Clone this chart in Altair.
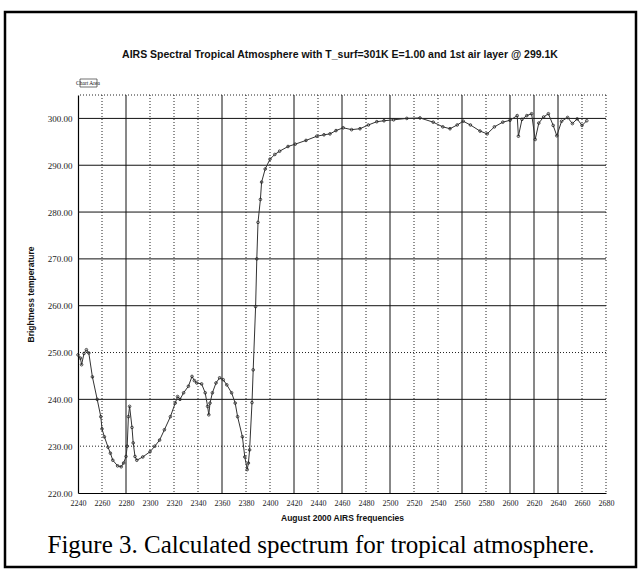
import altair as alt
import pandas as pd

# ---- data ----
freq = [2240, 2242, 2243, 2245, 2247, 2249, 2252, 2256, 2259, 2260, 2262, 2265, 2267, 2269,
        2273, 2276, 2278, 2280, 2281, 2282, 2283, 2285, 2286, 2287.5, 2289, 2294, 2300, 2304,
        2308, 2312, 2317, 2321, 2323, 2325, 2328, 2332, 2335, 2337, 2339, 2343, 2346, 2348,
        2349, 2350, 2352, 2355, 2358, 2361, 2364, 2368, 2371, 2373, 2377, 2379, 2381, 2382,
        2383, 2385, 2386, 2388, 2389, 2390, 2392, 2393, 2396, 2400, 2404, 2408, 2415, 2421,
        2430, 2439, 2445, 2450, 2455, 2461, 2468, 2475, 2482, 2489, 2495, 2503, 2514, 2525,
        2536, 2544, 2550, 2556, 2561, 2567, 2575, 2581, 2587, 2594, 2600, 2606, 2607, 2610,
        2614, 2618, 2621, 2624, 2628, 2632, 2636, 2639, 2643, 2648, 2652, 2656, 2660, 2664]
temp = [249.5, 248.8, 247.4, 249.8, 250.6, 249.9, 244.8, 240.0, 236.3, 233.7, 232.0, 229.8, 228.5, 227.0,
        225.8, 225.6, 226.4, 227.8, 230.0, 236.3, 238.5, 234.0, 230.7, 227.8, 227.0, 227.7, 228.8, 230.0,
        231.3, 233.5, 236.3, 239.2, 240.6, 240.0, 241.4, 242.8, 244.9, 244.0, 243.5, 243.3, 241.4, 238.5,
        236.7, 239.2, 241.4, 243.5, 244.6, 244.2, 243.1, 241.4, 239.2, 236.3, 232.0, 227.7, 225.0, 226.4,
        229.2, 239.3, 246.3, 259.8, 270.0, 277.8, 282.7, 286.4, 289.2, 291.3, 292.3, 293.0, 294.0, 294.5,
        295.3, 296.2, 296.5, 296.7, 297.4, 298.0, 297.6, 297.8, 298.6, 299.3, 299.5, 299.7, 300.0, 300.1,
        299.2, 298.2, 297.8, 298.6, 299.4, 298.6, 297.3, 296.7, 298.2, 299.2, 299.6, 300.6, 296.2, 299.8,
        300.6, 301.0, 295.5, 299.0, 300.3, 301.0, 298.5, 296.3, 299.4, 300.2, 298.9, 299.9, 298.5, 299.5]

x_ticks = [2240, 2260, 2280, 2300, 2320, 2340, 2360, 2380, 2400, 2420, 2440, 2460,
           2480, 2500, 2520, 2540, 2560, 2580, 2600, 2620, 2640, 2660, 2680]
y_ticks = [220, 230, 240, 250, 260, 270, 280, 290, 300]
x_grid_solid = [2280, 2360, 2420, 2460, 2500, 2560, 2600, 2620, 2640]
x_grid_dotted = [2260, 2300, 2320, 2340, 2380, 2400, 2440, 2480, 2520, 2540, 2580, 2660, 2680]
y_grid_solid = [240, 260, 270, 280, 290, 300]
y_grid_dotted = [230, 250, 305]

title_text = "AIRS Spectral  Tropical Atmosphere with T_surf=301K E=1.00 and 1st air layer @ 299.1K"
caption_text = "Figure 3. Calculated spectrum for tropical atmosphere."

W, H = 528, 398
xs = alt.Scale(domain=[2240, 2680], nice=False, zero=False)
ys = alt.Scale(domain=[220, 305], nice=False, zero=False)

x_axis = alt.Axis(values=x_ticks, title="August 2000 AIRS frequencies", format="d",
                  grid=False, domainColor="black", domainWidth=1.2, tickSize=0,
                  labelPadding=6, titlePadding=6, labelFlush=False, labelOverlap=False,
                  labelFontSize=8)
y_axis = alt.Axis(values=y_ticks, title="Brightness temperature", format=".2f",
                  grid=False, domainColor="black", domainWidth=1.2, tickSize=0,
                  labelPadding=6, titlePadding=12, labelOverlap=False)

df = pd.DataFrame({"f": freq, "t": temp})

vsolid = alt.Chart(pd.DataFrame({"f": x_grid_solid})).mark_rule(color="#111", strokeWidth=1).encode(
    x=alt.X("f:Q", scale=xs, axis=x_axis))
vdot = alt.Chart(pd.DataFrame({"f": x_grid_dotted})).mark_rule(color="#222", strokeWidth=1, strokeDash=[1, 2]).encode(
    x=alt.X("f:Q", scale=xs, axis=x_axis))
hsolid = alt.Chart(pd.DataFrame({"t": y_grid_solid})).mark_rule(color="#111", strokeWidth=1).encode(
    y=alt.Y("t:Q", scale=ys, axis=y_axis))
hdot = alt.Chart(pd.DataFrame({"t": y_grid_dotted})).mark_rule(color="#222", strokeWidth=1, strokeDash=[1, 2]).encode(
    y=alt.Y("t:Q", scale=ys, axis=y_axis))

line = alt.Chart(df).mark_line(
    color="#333", strokeWidth=1,
    point=alt.OverlayMarkDef(filled=False, size=7, color="#222", strokeWidth=0.8),
).encode(
    x=alt.X("f:Q", scale=xs, axis=x_axis),
    y=alt.Y("t:Q", scale=ys, axis=y_axis),
)

def txt(s, x, y, **kw):
    return alt.Chart(pd.DataFrame({"s": [s]})).mark_text(**kw).encode(
        text="s:N", x=alt.value(x), y=alt.value(y))

title = txt(title_text, 262, -40, font="Liberation Sans", fontSize=10.5, fontWeight="bold",
            align="center", baseline="middle", color="#111")
chart_area = txt("Chart Area", 10, -12, font="Liberation Sans Narrow", fontSize=5.5,
                 align="center", baseline="middle", color="#111")
chart_area_box = alt.Chart(pd.DataFrame({"a": [0]})).mark_rect(
    fill="white", stroke="#333", strokeWidth=0.7).encode(
    x=alt.value(2), x2=alt.value(19), y=alt.value(-16), y2=alt.value(-8))
caption = txt(caption_text, 243, 450, font="Liberation Serif", fontSize=25,
              align="center", baseline="middle", color="black")
frame = alt.Chart(pd.DataFrame({"a": [0]})).mark_rect(
    fill=None, stroke="black", strokeWidth=2.5).encode(
    x=alt.value(-73), x2=alt.value(558), y=alt.value(-83), y2=alt.value(472))

chart = alt.layer(hdot, vdot, hsolid, vsolid, line, frame, title, chart_area_box, chart_area, caption).properties(
    width=W, height=H,
    autosize=alt.AutoSizeParams(type="none"),
    padding={"left": 78, "top": 95, "right": 34, "bottom": 87},
    background="white",
).configure_view(stroke=None).configure_axis(
    labelFont="Liberation Sans Narrow", labelFontSize=9, labelColor="#222",
    titleFont="Liberation Sans", titleFontSize=8.5, titleFontWeight="bold", titleColor="#111",
)

chart.save("out.html", embed_options={"renderer": "svg", "actions": False})
